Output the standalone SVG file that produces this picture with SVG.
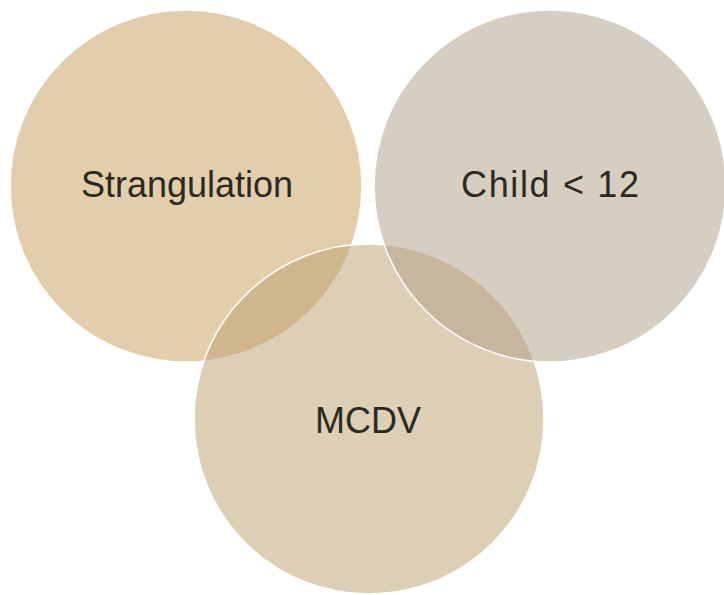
<svg xmlns="http://www.w3.org/2000/svg" width="724" height="595" viewBox="0 0 724 595">
<style>
.c{stroke:#ffffff;stroke-width:1.5}
.t{font-family:"Liberation Sans",Arial,sans-serif;font-size:36px;fill:#2b2a22;text-anchor:middle}
</style>
<rect width="724" height="595" fill="#ffffff"/>
<g id="strangulation">
<circle class="c" cx="186" cy="186" r="176" fill="rgb(199,157,87)" fill-opacity="0.5"/>
</g>
<g id="mcdv">
<circle class="c" cx="369" cy="419" r="175" fill="rgb(187,157,109)" fill-opacity="0.5"/>
</g>
<g id="child">
<circle class="c" cx="550" cy="186" r="176" fill="rgb(175,157,133)" fill-opacity="0.5"/>
</g>
<g id="labels">
<text class="t" x="187" y="197">Strangulation</text>
<text class="t" x="550" y="197" textLength="178" lengthAdjust="spacing">Child &lt; 12</text>
<text class="t" x="368" y="433">MCDV</text>
</g>
<g id="connectors"/>
</svg>
